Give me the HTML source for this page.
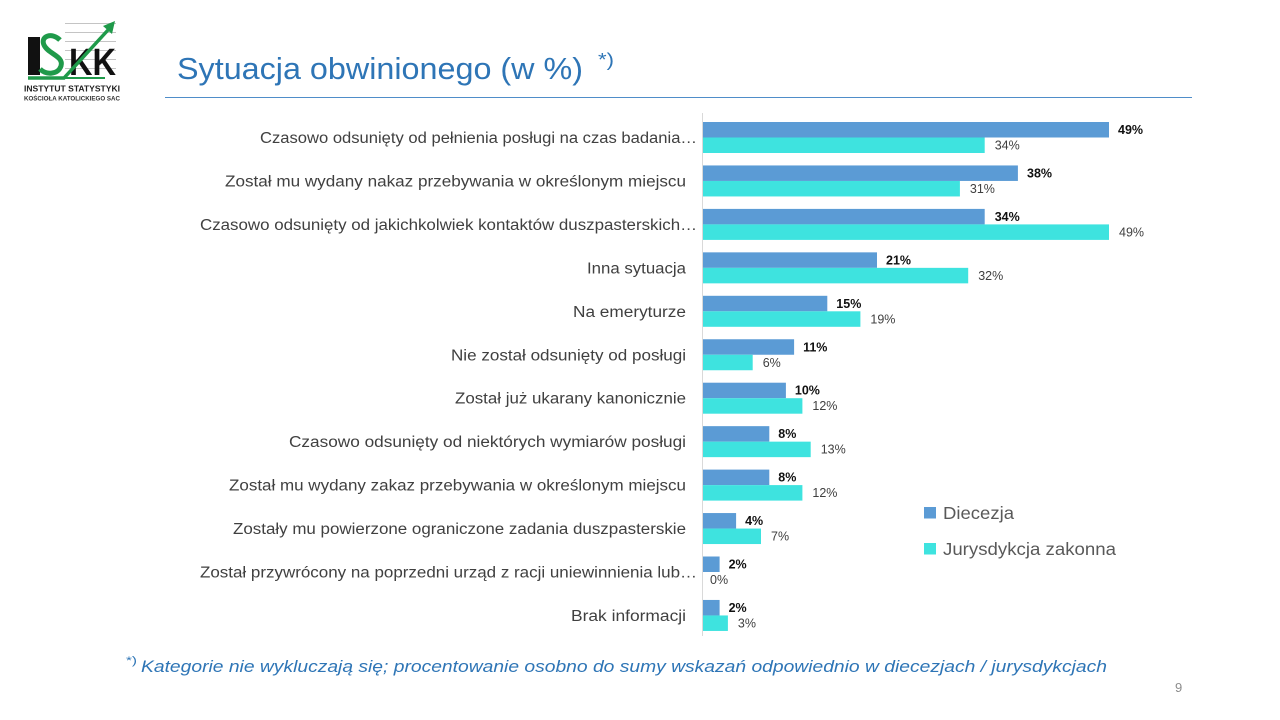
<!DOCTYPE html>
<html>
<head>
<meta charset="utf-8">
<style>
  html,body{margin:0;padding:0;background:#fff;}
  svg{display:block;}
  text{font-family:"Liberation Sans", "DejaVu Sans", sans-serif;}
</style>
</head>
<body>
<svg width="1280" height="720" viewBox="0 0 1280 720" xmlns="http://www.w3.org/2000/svg">
  <rect x="0" y="0" width="1280" height="720" fill="#ffffff"/>

  <!-- Logo -->
  <g>
    <g stroke="#c4c4c4" stroke-width="1">
      <line x1="65" y1="23.5" x2="116" y2="23.5"/>
      <line x1="65" y1="32.5" x2="116" y2="32.5"/>
      <line x1="65" y1="41.5" x2="116" y2="41.5"/>
      <line x1="65" y1="50.5" x2="116" y2="50.5"/>
      <line x1="65" y1="59.5" x2="116" y2="59.5"/>
      <line x1="65" y1="68.5" x2="116" y2="68.5"/>
    </g>
    <rect x="28" y="37" width="12" height="38" fill="#111"/>
    <path d="M60 40 C52 32 40 36 44 45 C48 54 64 56 61 66 C58 75 46 75 40 69" fill="none" stroke="#1f9a4a" stroke-width="5"/>
    <text x="69" y="75" font-size="38" font-weight="bold" fill="#111" textLength="47" lengthAdjust="spacingAndGlyphs">KK</text>
    <path d="M28 78 L64 78 L108 30" fill="none" stroke="#1f9a4a" stroke-width="3.5"/>
    <line x1="64" y1="78" x2="105" y2="78" stroke="#1f9a4a" stroke-width="2"/>
    <polygon points="103,26 115,21 112,34" fill="#1f9a4a"/>
    <text x="24" y="91.5" font-size="8.5" font-weight="bold" fill="#222" textLength="96" lengthAdjust="spacingAndGlyphs">INSTYTUT STATYSTYKI</text>
    <text x="24" y="100.5" font-size="6" font-weight="bold" fill="#333" textLength="96" lengthAdjust="spacingAndGlyphs">KOŚCIOŁA KATOLICKIEGO SAC</text>
  </g>

  <!-- Title -->
  <text x="177" y="79" font-size="31" fill="#2E75B6" textLength="406" lengthAdjust="spacingAndGlyphs">Sytuacja obwinionego (w %)</text>
  <text x="598" y="66" font-size="18" fill="#2E75B6" textLength="16" lengthAdjust="spacingAndGlyphs">*)</text>
  <line x1="165" y1="97.5" x2="1192" y2="97.5" stroke="#4F8DC9" stroke-width="1"/>

  <!-- Axis -->
  <line x1="702.5" y1="113" x2="702.5" y2="636" stroke="#D9D9D9" stroke-width="1"/>

  <!-- Bars -->
  <g fill="#5B9BD5">
    <rect x="703" y="122" width="406" height="15.5"/>
    <rect x="703" y="165.45" width="314.9" height="15.5"/>
    <rect x="703" y="208.9" width="281.7" height="15.5"/>
    <rect x="703" y="252.35" width="174" height="15.5"/>
    <rect x="703" y="295.8" width="124.3" height="15.5"/>
    <rect x="703" y="339.25" width="91.1" height="15.5"/>
    <rect x="703" y="382.7" width="82.9" height="15.5"/>
    <rect x="703" y="426.15" width="66.3" height="15.5"/>
    <rect x="703" y="469.6" width="66.3" height="15.5"/>
    <rect x="703" y="513.05" width="33.1" height="15.5"/>
    <rect x="703" y="556.5" width="16.6" height="15.5"/>
    <rect x="703" y="599.95" width="16.6" height="15.5"/>
  </g>
  <g fill="#3EE3DF">
    <rect x="703" y="137.5" width="281.7" height="15.5"/>
    <rect x="703" y="180.95" width="256.9" height="15.5"/>
    <rect x="703" y="224.4" width="406" height="15.5"/>
    <rect x="703" y="267.85" width="265.2" height="15.5"/>
    <rect x="703" y="311.3" width="157.4" height="15.5"/>
    <rect x="703" y="354.75" width="49.7" height="15.5"/>
    <rect x="703" y="398.2" width="99.4" height="15.5"/>
    <rect x="703" y="441.65" width="107.7" height="15.5"/>
    <rect x="703" y="485.1" width="99.4" height="15.5"/>
    <rect x="703" y="528.55" width="58" height="15.5"/>
    <rect x="703" y="615.45" width="24.9" height="15.5"/>
  </g>

  <!-- Blue data labels -->
  <g font-size="12.5" font-weight="bold" fill="#111">
    <text x="1118" y="134">49%</text>
    <text x="1027" y="177.45">38%</text>
    <text x="994.7" y="220.9">34%</text>
    <text x="886" y="264.35">21%</text>
    <text x="836.3" y="307.8">15%</text>
    <text x="803.1" y="351.25">11%</text>
    <text x="794.9" y="394.7">10%</text>
    <text x="778.3" y="438.15">8%</text>
    <text x="778.3" y="481.6">8%</text>
    <text x="745.1" y="525.05">4%</text>
    <text x="728.6" y="568.5">2%</text>
    <text x="728.6" y="611.95">2%</text>
  </g>
  <!-- Cyan data labels -->
  <g font-size="12.5" fill="#404040">
    <text x="994.7" y="149.5">34%</text>
    <text x="969.9" y="192.95">31%</text>
    <text x="1119" y="236.4">49%</text>
    <text x="978.2" y="279.85">32%</text>
    <text x="870.4" y="323.3">19%</text>
    <text x="762.7" y="366.75">6%</text>
    <text x="812.4" y="410.2">12%</text>
    <text x="820.7" y="453.65">13%</text>
    <text x="812.4" y="497.1">12%</text>
    <text x="771" y="540.55">7%</text>
    <text x="710" y="583.95">0%</text>
    <text x="737.9" y="627.45">3%</text>
  </g>

  <!-- Category labels -->
  <g font-size="15.5" fill="#404040" text-anchor="end">
    <text x="697" y="143" textLength="437" lengthAdjust="spacingAndGlyphs">Czasowo odsunięty od pełnienia posługi na czas badania…</text>
    <text x="686" y="186.45" textLength="461" lengthAdjust="spacingAndGlyphs">Został mu wydany nakaz przebywania w określonym miejscu</text>
    <text x="697" y="229.9" textLength="497" lengthAdjust="spacingAndGlyphs">Czasowo odsunięty od jakichkolwiek kontaktów duszpasterskich…</text>
    <text x="686" y="273.35" textLength="99" lengthAdjust="spacingAndGlyphs">Inna sytuacja</text>
    <text x="686" y="316.8" textLength="113" lengthAdjust="spacingAndGlyphs">Na emeryturze</text>
    <text x="686" y="360.25" textLength="235" lengthAdjust="spacingAndGlyphs">Nie został odsunięty od posługi</text>
    <text x="686" y="403.7" textLength="231" lengthAdjust="spacingAndGlyphs">Został już ukarany kanonicznie</text>
    <text x="686" y="447.15" textLength="397" lengthAdjust="spacingAndGlyphs">Czasowo odsunięty od niektórych wymiarów posługi</text>
    <text x="686" y="490.6" textLength="457" lengthAdjust="spacingAndGlyphs">Został mu wydany zakaz przebywania w określonym miejscu</text>
    <text x="686" y="534.05" textLength="453" lengthAdjust="spacingAndGlyphs">Zostały mu powierzone ograniczone zadania duszpasterskie</text>
    <text x="697" y="577.5" textLength="497" lengthAdjust="spacingAndGlyphs">Został przywrócony na poprzedni urząd z racji uniewinnienia lub…</text>
    <text x="686" y="620.95" textLength="115" lengthAdjust="spacingAndGlyphs">Brak informacji</text>
  </g>

  <!-- Legend -->
  <rect x="924" y="507" width="12" height="11.5" fill="#5B9BD5"/>
  <text x="943" y="519" font-size="17.5" fill="#595959" textLength="71" lengthAdjust="spacingAndGlyphs">Diecezja</text>
  <rect x="924" y="543" width="12" height="11.5" fill="#3EE3DF"/>
  <text x="943" y="555" font-size="17.5" fill="#595959" textLength="173" lengthAdjust="spacingAndGlyphs">Jurysdykcja zakonna</text>

  <!-- Footnote -->
  <text x="126" y="664" font-size="11" fill="#2E75B6" textLength="11" lengthAdjust="spacingAndGlyphs">*)</text>
  <text x="141" y="672" font-size="17" font-style="italic" fill="#2E75B6" textLength="966" lengthAdjust="spacingAndGlyphs">Kategorie nie wykluczają się; procentowanie osobno do sumy wskazań odpowiednio w diecezjach / jurysdykcjach</text>

  <!-- Page number -->
  <text x="1175" y="692" font-size="13" fill="#8C8C8C">9</text>
</svg>
</body>
</html>
